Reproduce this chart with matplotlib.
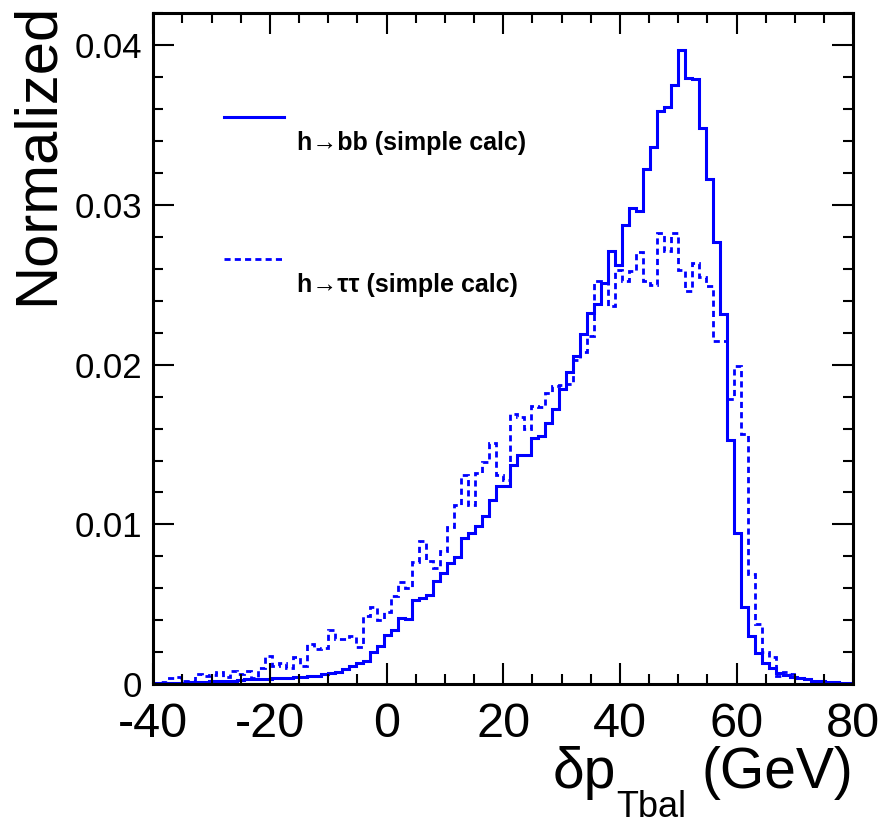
import numpy as np
import matplotlib
matplotlib.use("Agg")
import matplotlib.pyplot as plt

plt.rcParams['font.family'] = ['Liberation Sans', 'DejaVu Sans']
plt.rcParams['axes.unicode_minus'] = False

# 100 bins of 1.2 GeV between -40 and 80 GeV
xmin, xmax, nbins = -40., 80., 100

# h->bb, normalized bin contents
h_bb = [
    0.00005, 0.00005, 0.0001, 0.0001, 0.0001, 0.00012, 0.00015, 0.00015, 0.00018, 0.0002,
    0.0002, 0.00022, 0.00025, 0.0003, 0.0003, 0.00032, 0.00035, 0.00037, 0.0004, 0.0004,
    0.00045, 0.00047, 0.0005, 0.00052, 0.00061, 0.00069, 0.00075, 0.00095, 0.00114, 0.00134,
    0.00148, 0.00204, 0.0024, 0.00306, 0.00337, 0.00412, 0.0041, 0.00528, 0.0054, 0.00559,
    0.00645, 0.00699, 0.00761, 0.00793, 0.00917, 0.00948, 0.00989, 0.01052, 0.01155, 0.01238,
    0.01238, 0.01373, 0.01433, 0.01433, 0.01543, 0.01556, 0.01632, 0.01723, 0.01849, 0.01955,
    0.02056, 0.02193, 0.02326, 0.02377, 0.02514, 0.02714, 0.02624, 0.02873, 0.02978, 0.02964,
    0.03227, 0.03362, 0.03589, 0.03614, 0.03749, 0.03973, 0.03797, 0.03786, 0.0348, 0.0316,
    0.02765, 0.02315, 0.01528, 0.00948, 0.00486, 0.00302, 0.00192, 0.0013, 0.00099, 0.00072,
    0.00057, 0.00047, 0.00036, 0.0003, 0.00022, 0.00018, 0.00015, 0.00012, 0.0001, 0.0001,
]

# h->tautau, normalized bin contents
h_tautau = [
    0.0001, 0.00015, 0.00037, 0.00043, 0.00022, 0.00022, 0.00065, 0.00051, 0.00057, 0.00074,
    0.00043, 0.00082, 0.00065, 0.0008, 0.00037, 0.00099, 0.00175, 0.00113, 0.0013, 0.00099,
    0.00167, 0.00113, 0.00254, 0.00223, 0.00229, 0.00341, 0.00285, 0.00283, 0.003, 0.00234,
    0.00424, 0.00482, 0.00403, 0.00451, 0.00554, 0.00637, 0.00604, 0.00765, 0.00896, 0.00772,
    0.0073, 0.00831, 0.00983, 0.01124, 0.01308, 0.01122, 0.0132, 0.01393, 0.01507, 0.0131,
    0.0128, 0.01694, 0.01673, 0.016, 0.0174, 0.01736, 0.01821, 0.01865, 0.0187, 0.01878,
    0.02032, 0.02077, 0.02181, 0.02523, 0.02512, 0.02367, 0.02595, 0.02523, 0.02585, 0.02703,
    0.02523, 0.02502, 0.02823, 0.02709, 0.02823, 0.02595, 0.0246, 0.02636, 0.02549, 0.02491,
    0.0215, 0.0215, 0.01787, 0.01994, 0.01569, 0.00689, 0.00378, 0.00202, 0.00171, 0.00051,
    0.00078, 0.00063, 0.0004, 0.0003, 0.0002, 0.00015, 0.00012, 0.0001, 0.00008, 0.00008,
]

labels = ["h\u2192bb (simple calc)", "h\u2192\u03c4\u03c4 (simple calc)"]
xticks = [-40, -20, 0, 20, 40, 60, 80]
yticks = [0, 0.01, 0.02, 0.03, 0.04]
ytick_labels = ["0", "0.01", "0.02", "0.03", "0.04"]

edges = np.linspace(xmin, xmax, nbins + 1)
dash = (0, (2.2, 1.5))

fig = plt.figure(figsize=(8.81, 8.24), dpi=100)
ax = fig.add_axes([0.174, 0.1697, 0.7945, 0.8142])

ax.stairs(h_bb, edges, color='blue', lw=2.2)
ax.stairs(h_tautau, edges, color='blue', lw=2.0, ls=dash)

ax.set_xlim(xmin, xmax)
ax.set_ylim(0, 1.05 * max(h_bb))

ax.set_xticks(xticks)
ax.set_xticklabels([str(t) for t in xticks])
ax.set_xticks(np.arange(xmin, xmax + 1, 5), minor=True)
ax.set_yticks(yticks)
ax.set_yticklabels(ytick_labels)
ax.set_yticks(np.arange(0, 0.0421, 0.002), minor=True)

ax.tick_params(which='both', direction='in', top=True, right=True, width=1.5)
ax.tick_params(which='major', length=15)
ax.tick_params(which='minor', length=7.5)
ax.tick_params(axis='x', labelsize=35, pad=13)
ax.tick_params(axis='y', labelsize=25, pad=8)
for s in ax.spines.values():
    s.set_linewidth(2.2)

ax.set_ylabel("Normalized", fontsize=43, loc='top')
ax.yaxis.set_label_coords(-0.126, 1.015)

# x title built from pieces so the subscript sits low like ROOT's #delta p_{Tbal}
gev = ax.text(1.0, -0.1725, "(GeV)", transform=ax.transAxes, fontsize=41,
              ha='right', va='bottom')
sub = ax.annotate("Tbal", xy=(0, 0), xycoords=gev, xytext=(-11, -18),
                  textcoords='offset points', fontsize=26, ha='right', va='bottom')
ax.annotate("\u03b4p", xy=(0, 0), xycoords=sub, xytext=(0, 18),
            textcoords='offset points', fontsize=41, ha='right', va='bottom')

# legend, ROOT style: line sample above, text below-right
ax.plot([0.101, 0.187], [0.8454, 0.8454], transform=ax.transAxes,
        color='blue', lw=2.2, clip_on=False)
ax.text(0.205, 0.7962, labels[0], transform=ax.transAxes, fontsize=18,
        fontweight='bold', va='baseline')
ax.plot([0.101, 0.187], [0.634, 0.634], transform=ax.transAxes,
        color='blue', lw=2.0, ls=dash, clip_on=False)
ax.text(0.205, 0.5846, labels[1], transform=ax.transAxes, fontsize=18,
        fontweight='bold', va='baseline')

fig.savefig("out.png", dpi=100)
